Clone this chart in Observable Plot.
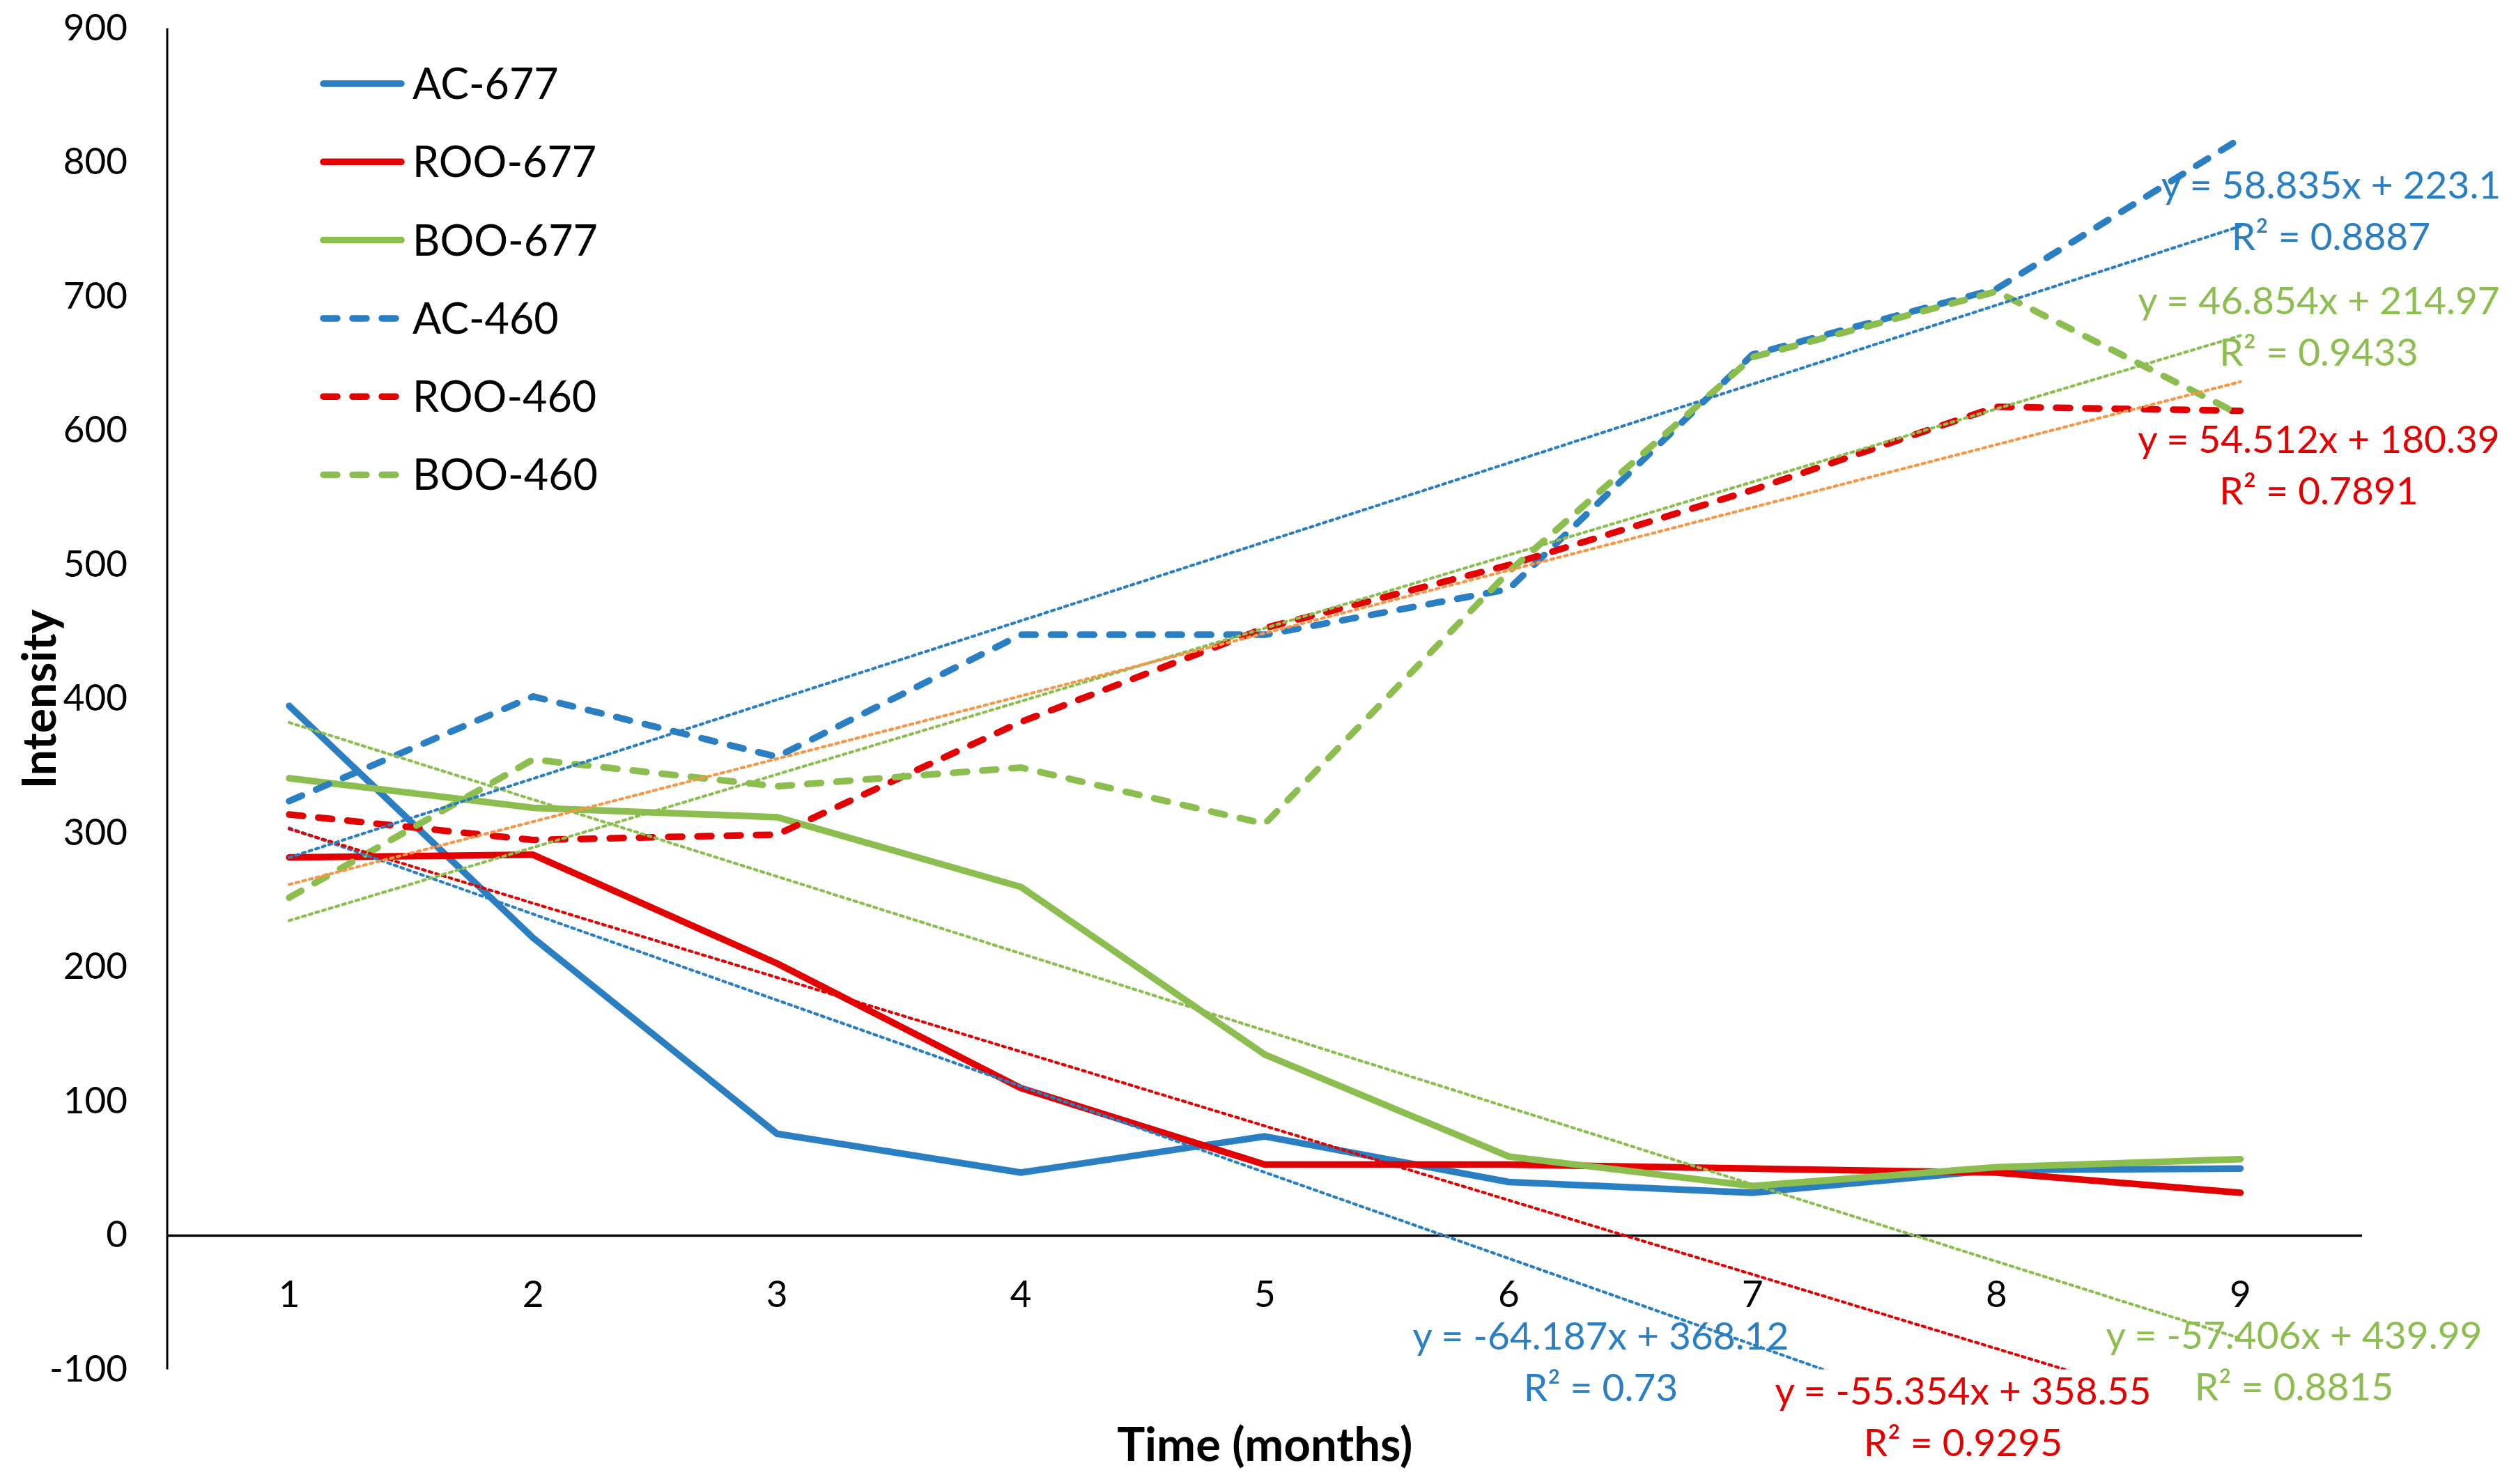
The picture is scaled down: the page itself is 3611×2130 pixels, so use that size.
<!DOCTYPE html>
<html><head><meta charset="utf-8">
<script src="https://cdn.jsdelivr.net/npm/d3@7"></script>
<script src="https://cdn.jsdelivr.net/npm/@observablehq/plot@0.6"></script>
<style>
html,body{margin:0;padding:0;background:#fff;}
#wrap{position:relative;width:3611px;height:2130px;overflow:hidden;}
#legend{position:absolute;left:0;top:0;}
</style></head><body><div id="wrap"></div>
<script>
const months = [1, 2, 3, 4, 5, 6, 7, 8, 9];
const seriesNames = ["AC-677", "ROO-677", "BOO-677", "AC-460", "ROO-460", "BOO-460"];
const ac677  = [395, 222, 76, 47, 74, 40, 32, 49, 50];
const roo677 = [282, 284, 203, 110, 53, 53, 50, 47, 32];
const boo677 = [341, 319, 312, 260, 135, 59, 37, 51, 57];
const ac460  = [324, 402, 357, 448, 448, 482, 657, 706, 818];
const roo460 = [314, 295, 299, 383, 453, 500, 556, 618, 615];
const boo460 = [252, 355, 335, 349, 307, 495, 655, 704, 612];
const trendSlopes     = [-64.187, -55.354, -57.406, 58.835, 54.512, 46.854];
const trendIntercepts = [368.12, 358.55, 439.99, 223.1, 180.39, 214.97];
const trendR2         = ["0.73", "0.9295", "0.8815", "0.8887", "0.7891", "0.9433"];
const yTicks = [-100, 0, 100, 200, 300, 400, 500, 600, 700, 800, 900];
const xTitle = "Time (months)";
const yTitle = "Intensity";

const seriesValues = [ac677, roo677, boo677, ac460, roo460, boo460];
const BLUE = "#2a7ec2", RED = "#e30000", GREEN = "#8bbd4f", ORANGE = "#f79646";
const seriesColors = [BLUE, RED, GREEN, BLUE, RED, GREEN];
const seriesDash = [null, null, null, "20,22", "20,22", "20,22"];
const trendLineColors = [BLUE, RED, GREEN, BLUE, GREEN, ORANGE];
const labelColors = [BLUE, RED, GREEN, BLUE, RED, GREEN];
// label offsets (px) relative to each trendline's value at the last month
const labelDx = [-918, -398, 77, 130, 112.5, 112.5];
const labelDy = [-227, -12.6, 28.6, -26.2, 181.5, -83.4];

const FONT = "Lato, 'Open Sans', sans-serif";
const W = 3611, H = 2130;

const xDomain = [months[0] - 0.5, months[months.length - 1] + 0.5];
const xEnds = [months[0], months[months.length - 1]];

const marks = [];
marks.push(Plot.ruleX([xDomain[0]], {stroke: "#000", strokeWidth: 3}));
marks.push(Plot.ruleY([0], {stroke: "#000", strokeWidth: 3.5}));
marks.push(Plot.axisY({ticks: yTicks, tickSize: 0, tickPadding: 57, tickFormat: d => String(d), label: null, fontSize: 53, fill: "#000"}));
marks.push(Plot.axisX({ticks: months, tickSize: 0, tickPadding: 0, tickFormat: d => String(d), label: null, fontSize: 53, fill: "#000", dy: -128}));

seriesNames.forEach((name, i) => {
  const data = months.map((m, j) => ({month: m, value: seriesValues[i][j]}));
  marks.push(Plot.line(data, {x: "month", y: "value", stroke: seriesColors[i], strokeWidth: 9.5,
    strokeDasharray: seriesDash[i] || undefined, strokeLinecap: "round", strokeLinejoin: "round"}));
});

trendSlopes.forEach((m, i) => {
  const data = xEnds.map(x => ({x, y: m * x + trendIntercepts[i]}));
  marks.push(Plot.line(data, {x: "x", y: "y", stroke: trendLineColors[i], strokeWidth: 4.2,
    strokeDasharray: "4.2,5.8", clip: true}));
});

trendSlopes.forEach((m, i) => {
  const xe = xEnds[1];
  const lbl = [{x: xe, y: m * xe + trendIntercepts[i],
    text: `y = ${m}x + ${trendIntercepts[i]}\nR² = ${trendR2[i]}`}];
  marks.push(Plot.text(lbl, {x: "x", y: "y", text: "text", fill: labelColors[i], fontSize: 55,
    lineHeight: 1.345, textAnchor: "middle", lineAnchor: "middle", dx: labelDx[i], dy: labelDy[i]}));
});

marks.push(Plot.text([yTitle], {text: d => d, frameAnchor: "left", dx: -181, rotate: -90,
  fontSize: 66, fontWeight: "bold", fill: "#000", textAnchor: "middle", lineAnchor: "middle"}));
marks.push(Plot.text([xTitle], {text: d => d, frameAnchor: "bottom", dy: 110,
  fontSize: 67, fontWeight: "bold", fill: "#000", textAnchor: "middle", lineAnchor: "middle"}));

const chart = Plot.plot({
  width: W, height: H,
  marginLeft: 239.5, marginRight: 221, marginTop: 40.5, marginBottom: 164.5,
  style: {fontFamily: FONT, fontSize: "53px", background: "white", overflow: "visible", color: "#000"},
  x: {type: "linear", domain: xDomain},
  y: {domain: [yTicks[0], yTicks[yTicks.length - 1]]},
  marks
});
const wrap = document.getElementById("wrap");
wrap.appendChild(chart);

// Legend (inside the plot area, top-left)
const leg = d3.select(wrap).append("svg").attr("id", "legend")
  .attr("width", 1000).attr("height", 760)
  .style("font-family", FONT);
seriesNames.forEach((name, i) => {
  const y = 120 + i * 112.3;
  leg.append("line").attr("x1", 464).attr("x2", 576).attr("y1", y).attr("y2", y)
    .attr("stroke", seriesColors[i]).attr("stroke-width", 9.5).attr("stroke-linecap", "round")
    .attr("stroke-dasharray", seriesDash[i]);
  leg.append("text").attr("x", 592).attr("y", y).attr("dy", "0.36em")
    .attr("font-size", 61).attr("fill", "#000").text(name);
});
</script></body></html>
